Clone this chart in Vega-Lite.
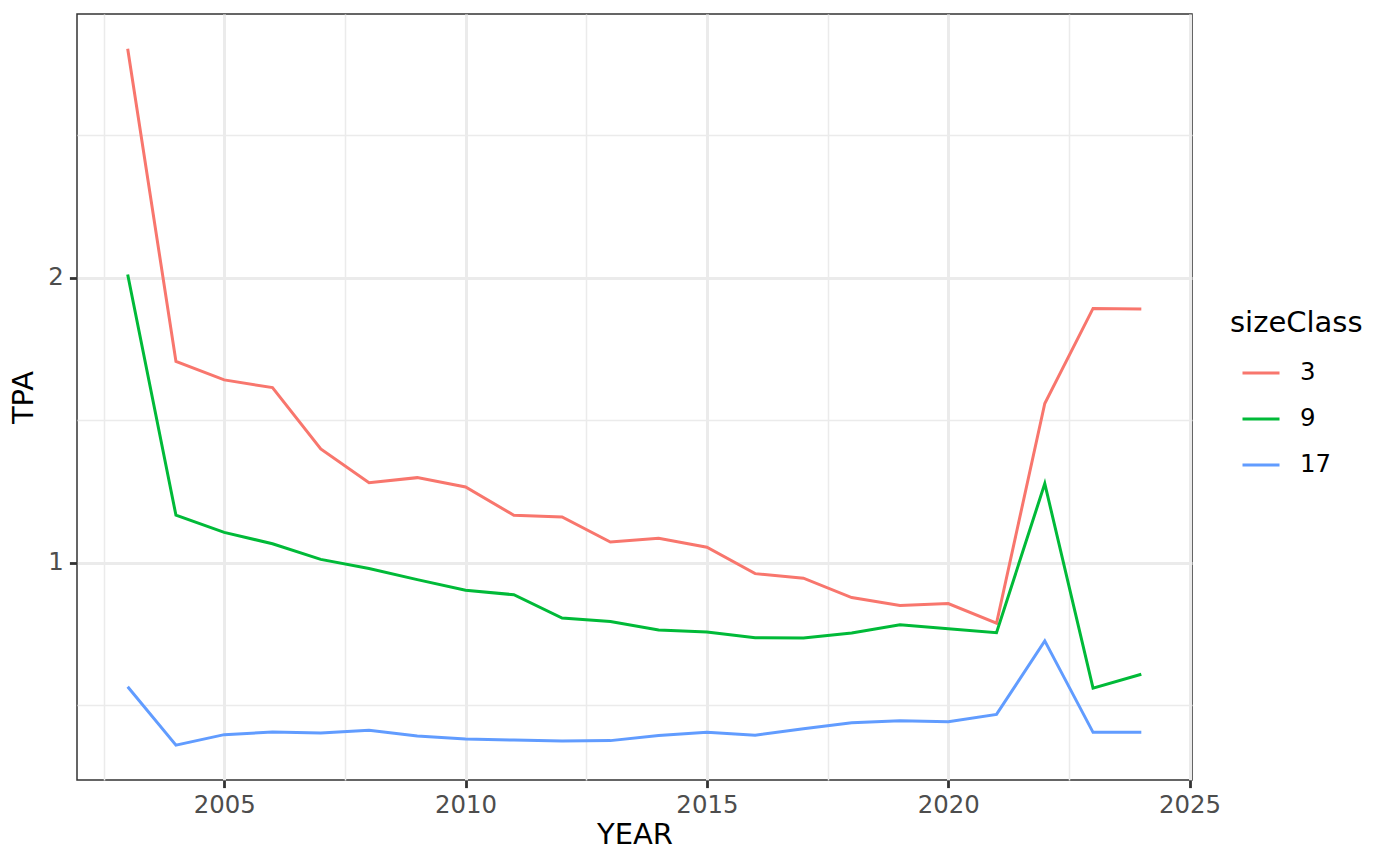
{
  "$schema": "https://vega.github.io/schema/vega-lite/v6.json",
  "autosize": {"type": "none"},
  "width": 1115,
  "height": 766,
  "padding": {"left": 77, "top": 14, "right": 208, "bottom": 85},
  "background": "white",
  "config": {
    "font": "DejaVu Sans",
    "view": {"stroke": "#333333", "strokeWidth": 1.5},
    "axis": {
      "domain": false,
      "gridColor": "#EBEBEB",
      "tickColor": "#333333",
      "tickWidth": 2.8,
      "tickSize": 7.6,
      "labelFont": "DejaVu Sans",
      "labelFontSize": 24.4,
      "labelColor": "#4D4D4D",
      "labelPadding": 6,
      "titleFont": "DejaVu Sans",
      "titleFontSize": 29,
      "titleFontWeight": "normal",
      "titleColor": "#000000"
    }
  },
  "data": {"values": [
    {"YEAR": 2003, "TPA": 2.803, "sizeClass": "3"},
    {"YEAR": 2004, "TPA": 1.706, "sizeClass": "3"},
    {"YEAR": 2005, "TPA": 1.641, "sizeClass": "3"},
    {"YEAR": 2006, "TPA": 1.614, "sizeClass": "3"},
    {"YEAR": 2007, "TPA": 1.399, "sizeClass": "3"},
    {"YEAR": 2008, "TPA": 1.280, "sizeClass": "3"},
    {"YEAR": 2009, "TPA": 1.298, "sizeClass": "3"},
    {"YEAR": 2010, "TPA": 1.265, "sizeClass": "3"},
    {"YEAR": 2011, "TPA": 1.166, "sizeClass": "3"},
    {"YEAR": 2012, "TPA": 1.160, "sizeClass": "3"},
    {"YEAR": 2013, "TPA": 1.072, "sizeClass": "3"},
    {"YEAR": 2014, "TPA": 1.085, "sizeClass": "3"},
    {"YEAR": 2015, "TPA": 1.054, "sizeClass": "3"},
    {"YEAR": 2016, "TPA": 0.961, "sizeClass": "3"},
    {"YEAR": 2017, "TPA": 0.945, "sizeClass": "3"},
    {"YEAR": 2018, "TPA": 0.877, "sizeClass": "3"},
    {"YEAR": 2019, "TPA": 0.849, "sizeClass": "3"},
    {"YEAR": 2020, "TPA": 0.856, "sizeClass": "3"},
    {"YEAR": 2021, "TPA": 0.787, "sizeClass": "3"},
    {"YEAR": 2022, "TPA": 1.558, "sizeClass": "3"},
    {"YEAR": 2023, "TPA": 1.892, "sizeClass": "3"},
    {"YEAR": 2024, "TPA": 1.890, "sizeClass": "3"},
    {"YEAR": 2003, "TPA": 2.011, "sizeClass": "9"},
    {"YEAR": 2004, "TPA": 1.166, "sizeClass": "9"},
    {"YEAR": 2005, "TPA": 1.106, "sizeClass": "9"},
    {"YEAR": 2006, "TPA": 1.066, "sizeClass": "9"},
    {"YEAR": 2007, "TPA": 1.011, "sizeClass": "9"},
    {"YEAR": 2008, "TPA": 0.979, "sizeClass": "9"},
    {"YEAR": 2009, "TPA": 0.940, "sizeClass": "9"},
    {"YEAR": 2010, "TPA": 0.903, "sizeClass": "9"},
    {"YEAR": 2011, "TPA": 0.887, "sizeClass": "9"},
    {"YEAR": 2012, "TPA": 0.805, "sizeClass": "9"},
    {"YEAR": 2013, "TPA": 0.793, "sizeClass": "9"},
    {"YEAR": 2014, "TPA": 0.763, "sizeClass": "9"},
    {"YEAR": 2015, "TPA": 0.756, "sizeClass": "9"},
    {"YEAR": 2016, "TPA": 0.736, "sizeClass": "9"},
    {"YEAR": 2017, "TPA": 0.735, "sizeClass": "9"},
    {"YEAR": 2018, "TPA": 0.753, "sizeClass": "9"},
    {"YEAR": 2019, "TPA": 0.782, "sizeClass": "9"},
    {"YEAR": 2020, "TPA": 0.768, "sizeClass": "9"},
    {"YEAR": 2021, "TPA": 0.754, "sizeClass": "9"},
    {"YEAR": 2022, "TPA": 1.277, "sizeClass": "9"},
    {"YEAR": 2023, "TPA": 0.559, "sizeClass": "9"},
    {"YEAR": 2024, "TPA": 0.608, "sizeClass": "9"},
    {"YEAR": 2003, "TPA": 0.564, "sizeClass": "17"},
    {"YEAR": 2004, "TPA": 0.359, "sizeClass": "17"},
    {"YEAR": 2005, "TPA": 0.396, "sizeClass": "17"},
    {"YEAR": 2006, "TPA": 0.405, "sizeClass": "17"},
    {"YEAR": 2007, "TPA": 0.402, "sizeClass": "17"},
    {"YEAR": 2008, "TPA": 0.411, "sizeClass": "17"},
    {"YEAR": 2009, "TPA": 0.391, "sizeClass": "17"},
    {"YEAR": 2010, "TPA": 0.381, "sizeClass": "17"},
    {"YEAR": 2011, "TPA": 0.377, "sizeClass": "17"},
    {"YEAR": 2012, "TPA": 0.374, "sizeClass": "17"},
    {"YEAR": 2013, "TPA": 0.375, "sizeClass": "17"},
    {"YEAR": 2014, "TPA": 0.393, "sizeClass": "17"},
    {"YEAR": 2015, "TPA": 0.404, "sizeClass": "17"},
    {"YEAR": 2016, "TPA": 0.394, "sizeClass": "17"},
    {"YEAR": 2017, "TPA": 0.417, "sizeClass": "17"},
    {"YEAR": 2018, "TPA": 0.438, "sizeClass": "17"},
    {"YEAR": 2019, "TPA": 0.445, "sizeClass": "17"},
    {"YEAR": 2020, "TPA": 0.441, "sizeClass": "17"},
    {"YEAR": 2021, "TPA": 0.467, "sizeClass": "17"},
    {"YEAR": 2022, "TPA": 0.725, "sizeClass": "17"},
    {"YEAR": 2023, "TPA": 0.404, "sizeClass": "17"},
    {"YEAR": 2024, "TPA": 0.404, "sizeClass": "17"}
  ]},
  "resolve": {"axis": {"x": "independent", "y": "independent"}},
  "layer": [
    {
      "mark": {"type": "line", "opacity": 0},
      "encoding": {
        "x": {"field": "YEAR", "type": "quantitative",
              "scale": {"domain": [2001.95, 2025.05], "nice": false, "zero": false},
              "axis": {"orient": "bottom", "values": [2002.5, 2007.5, 2012.5, 2017.5, 2022.5], "grid": true, "gridWidth": 1.5, "labels": false, "ticks": false, "title": null}},
        "y": {"field": "TPA", "type": "quantitative",
              "scale": {"domain": [0.2368, 2.9252], "nice": false, "zero": false},
              "axis": {"orient": "left", "values": [0.5, 1.5, 2.5], "grid": true, "gridWidth": 1.5, "labels": false, "ticks": false, "title": null}},
        "detail": {"field": "sizeClass", "type": "nominal"}
      }
    },
    {
      "mark": {"type": "line", "strokeWidth": 3},
      "encoding": {
        "x": {"field": "YEAR", "type": "quantitative",
              "axis": {"orient": "bottom", "values": [2005, 2010, 2015, 2020, 2025], "format": "d", "grid": true, "gridWidth": 3, "title": "YEAR", "titlePadding": 3}},
        "y": {"field": "TPA", "type": "quantitative",
              "axis": {"orient": "left", "values": [1, 2], "format": "d", "grid": true, "gridWidth": 3, "title": "TPA", "titlePadding": 9}},
        "color": {"field": "sizeClass", "type": "nominal",
                  "scale": {"domain": ["3", "9", "17"], "range": ["#F8766D", "#00BA38", "#619CFF"]},
                  "legend": {
                    "orient": "none", "legendX": 1153, "legendY": 295,
                    "title": "sizeClass", "titleFont": "DejaVu Sans", "titleFontSize": 29, "titleFontWeight": "normal", "titleColor": "#000000", "titlePadding": 15,
                    "symbolType": "stroke", "symbolSize": 1369, "symbolStrokeWidth": 3, "symbolOffset": 11,
                    "labelFont": "DejaVu Sans", "labelFontSize": 24.4, "labelColor": "#000000", "labelOffset": 19,
                    "rowPadding": 14
                  }}
      }
    }
  ]
}
